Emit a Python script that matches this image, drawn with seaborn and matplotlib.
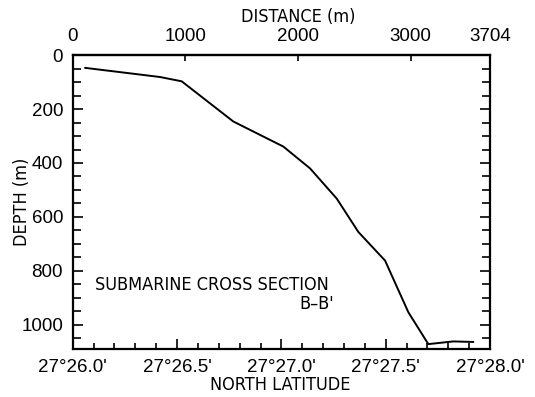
import matplotlib
matplotlib.use("Agg")
import matplotlib.pyplot as plt
from matplotlib.ticker import MultipleLocator, FixedLocator
from matplotlib import font_manager
import seaborn as sns
import pandas as pd

# Data (distance along section in m, depth in m)
distance_m = [109, 775, 967, 1425, 1869, 2106, 2343, 2535, 2772, 2979, 3156, 3378, 3556]
depth_m = [47, 81, 97, 246, 339, 420, 532, 656, 762, 954, 1072, 1062, 1064]

top_ticks = [0, 1000, 2000, 3000, 3704]
lat_minutes = [26.0, 26.5, 27.0, 27.5, 28.0]
lat_labels = ["27°26.0'", "27°26.5'", "27°27.0'", "27°27.5'", "27°28.0'"]
depth_ticks = [0, 200, 400, 600, 800, 1000]
METERS_PER_MINUTE = 1852.0

sns.set_style("ticks")
plt.rcParams['font.family'] = ['Liberation Sans', 'DejaVu Sans']
plt.rcParams['text.color'] = 'black'
plt.rcParams['axes.labelcolor'] = 'black'
plt.rcParams['xtick.color'] = 'black'
plt.rcParams['ytick.color'] = 'black'

cond = sorted([f for f in font_manager.fontManager.ttflist
               if ('condensed' in str(f.stretch).lower() or 'narrow' in f.name.lower())
               and f.weight in (400, 'normal', 'regular') and f.style == 'normal'],
              key=lambda f: (f.name != 'DejaVu Sans', f.name))
if cond:
    NARROW_KW = dict(family=cond[0].name, stretch=cond[0].stretch, fontsize=13)
else:
    NARROW_KW = dict(family='Liberation Sans', fontsize=11.6)

df = pd.DataFrame({"distance": distance_m, "depth": depth_m})

fig = plt.figure(figsize=(5.35, 3.97), dpi=100)
ax = fig.add_axes([0.136, 0.121, 0.78, 0.740])

sns.lineplot(data=df, x="distance", y="depth", sort=False, color="black",
             linewidth=1.4, ax=ax)

ax.set_xlim(0, 3704)
ax.set_ylim(1090, 0)

# bottom axis: latitude ticks
lat_pos = [(m - lat_minutes[0]) * METERS_PER_MINUTE for m in lat_minutes]
ax.xaxis.set_major_locator(FixedLocator(lat_pos))
ax.set_xticklabels(lat_labels)
ax.xaxis.set_minor_locator(MultipleLocator(0.1 * METERS_PER_MINUTE))

ax.yaxis.set_major_locator(FixedLocator(depth_ticks))
ax.yaxis.set_minor_locator(MultipleLocator(50))

ax.tick_params(axis='both', which='both', direction='in', colors='black',
               labelsize=13.5)
ax.tick_params(axis='x', which='major', length=7, width=1.2, pad=7, top=False)
ax.tick_params(axis='x', which='minor', length=4.5, width=1.2, top=False)
ax.tick_params(axis='y', which='major', length=7, width=1.2, pad=7, right=True)
ax.tick_params(axis='y', which='minor', length=5.5, width=1.2, right=True)

for s in ax.spines.values():
    s.set_visible(True)
    s.set_linewidth(1.6)
    s.set_color('black')

# top axis: distance
sec = ax.secondary_xaxis('top')
sec.set_xticks(top_ticks)
sec.set_xticklabels([str(t) for t in top_ticks])
sec.tick_params(direction='in', length=4, width=1.2, pad=7, labelsize=13.5,
                colors='black')
sec.spines['top'].set_linewidth(1.6)

ax.set_xlabel("NORTH LATITUDE", va='center', color='black', **NARROW_KW)
ax.xaxis.set_label_coords(0.497, -0.122)
ax.set_ylabel("DEPTH (m)", va='center', color='black', **NARROW_KW)
ax.yaxis.set_label_coords(-0.1215, 0.5)

ax.text(0.54, 1.129, "DISTANCE (m)", transform=ax.transAxes,
        ha='center', va='center', color='black', **NARROW_KW)
ax.text(0.0534, 0.2187, "SUBMARINE CROSS SECTION", transform=ax.transAxes,
        ha='left', va='center', color='black', **NARROW_KW)
ax.text(0.627, 0.152, "B–B'", transform=ax.transAxes,
        ha='right', va='center', color='black', **NARROW_KW)

fig.savefig("out.png", dpi=100)
